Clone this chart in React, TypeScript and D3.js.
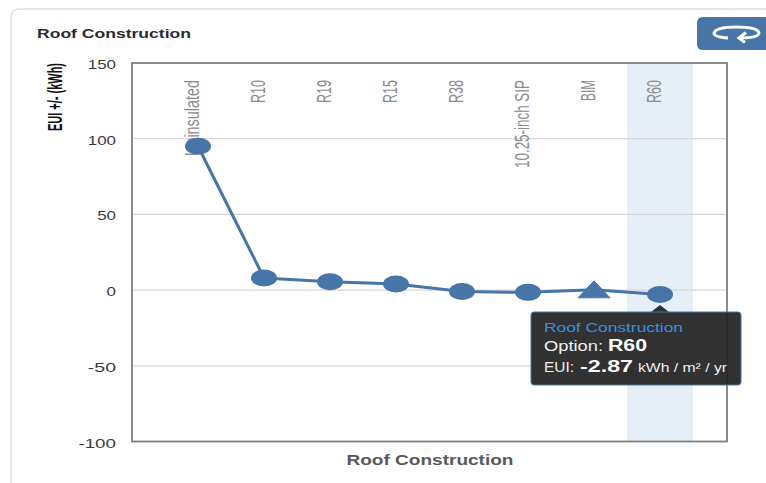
import React from "react";
import * as d3 from "d3";

const categories = ["Uninsulated", "R10", "R19", "R15", "R38", "10.25-inch SIP", "BIM", "R60"];
const labelLengths = [76, 23, 23, 23, 23, 88, 21, 23];
const values = [95, 8, 5.5, 4, -1, -1.5, 0.2, -2.87];
const yTicks = [150, 100, 50, 0, -50, -100];
const chartTitle = "Roof Construction";
const xTitle = "Roof Construction";
const yTitle = "EUI +/- (kWh)";
const triangleCategory = "BIM";
const selectedCategory = "R60";

const BLUE = "#4775a8";
const left = 132, right = 727, top = 63, bottom = 441.5;

export default function App() {
  const x = d3.scaleBand<string>().domain(categories).range([165, 693]);
  const y = d3.scaleLinear().domain([-100, 150]).range([bottom, top]);
  const cx = (c: string) => (x(c) as number) + x.bandwidth() / 2;
  const line = d3.line<number>().x((_, i) => cx(categories[i])).y((d) => y(d));
  const sans = "'Liberation Sans', Arial, sans-serif";
  const narrow = "'Liberation Sans Narrow', 'Liberation Sans', sans-serif";
  const sx = cx(selectedCategory);
  const sv = values[categories.indexOf(selectedCategory)];
  return (
    <svg width={766} height={483} style={{ position: "absolute", left: 0, top: 0, background: "#fff" }}>
      <path d="M11 483V18Q11 9 20 9H766" fill="none" stroke="#e0e0e0" strokeWidth={1.5} />
      <text x={37} y={38} fontFamily={sans} fontWeight={700} fontSize={13} fill="#2b2b2b" textLength={154} lengthAdjust="spacingAndGlyphs">{chartTitle}</text>
      <path d="M697 23Q697 17 703 17H766V50H703Q697 50 697 44Z" fill={BLUE} />
      <g fill="none" stroke="#fff" strokeWidth={3}>
        <path d="M728 38Q714 37 714 33Q716 27 736 27Q758 27 759 33Q758 38 740 38" />
        <path d="M746 32.5L739 38L745 42.5" />
      </g>

      <rect x={x(selectedCategory)} y={top} width={x.bandwidth()} height={bottom - top} fill="#e6eef7" />
      {yTicks.filter((t) => t !== 150 && t !== -100).map((t) => (
        <line key={t} x1={left} x2={right} y1={y(t)} y2={y(t)} stroke="#d6d6d6" strokeWidth={1.3} />
      ))}
      <rect x={left} y={top} width={right - left} height={bottom - top} fill="none" stroke="#7f7f7f" strokeWidth={1.8} />

      {yTicks.map((t) => (
        <text key={t} x={116} y={y(t) + 6} textAnchor="end" fontFamily={sans} fontSize={13}
          fill="#3a3a3a" textLength={String(t).length * 9.4} lengthAdjust="spacingAndGlyphs">{t}</text>
      ))}
      <text transform="translate(62,97) rotate(-90)" textAnchor="middle" fontFamily={narrow} fontWeight={700} fontSize={20} fill="#111" textLength={68} lengthAdjust="spacingAndGlyphs">{yTitle}</text>

      {categories.map((c, i) => (
        <text key={c} transform={`translate(${cx(c) - 6.5},80) rotate(-90)`} textAnchor="end" dominantBaseline="central" fontFamily={narrow} fontSize={20} fill="#8c8c8c"
          textLength={labelLengths[i]} lengthAdjust="spacingAndGlyphs">{c}</text>
      ))}

      <path d={line(values) ?? ""} fill="none" stroke={BLUE} strokeWidth={3} />
      {categories.map((c, i) =>
        c === triangleCategory ? (
          <path key={c} d={`M${cx(c)} ${y(values[i]) - 9}L${cx(c) + 16} ${y(values[i]) + 8}H${cx(c) - 16}Z`} fill={BLUE} stroke={BLUE} strokeLinejoin="round" />
        ) : (
          <ellipse key={c} cx={cx(c)} cy={y(values[i])} rx={13} ry={8.5} fill={BLUE} />
        )
      )}

      <g>
        <path d={`M${sx - 9} 312L${sx} 305L${sx + 9} 312Z`} fill="#303030" />
        <rect x={531} y={312} width={210} height={73} rx={3} fill="#222" fillOpacity={0.93} stroke={BLUE} strokeWidth={1} />
        <text x={544} y={332} fontFamily={sans} fontSize={13} fill="#3b8fe0" textLength={139} lengthAdjust="spacingAndGlyphs">{chartTitle}</text>
        <text x={544} y={351} fontFamily={sans} fontSize={15} fill="#f0f0f0" textLength={59} lengthAdjust="spacingAndGlyphs">Option:</text>
        <text x={608} y={351} fontFamily={sans} fontSize={16} fontWeight={700} fill="#fff" textLength={39} lengthAdjust="spacingAndGlyphs">{selectedCategory}</text>
        <text x={544} y={372} fontFamily={sans} fontSize={15} fill="#f0f0f0" textLength={30} lengthAdjust="spacingAndGlyphs">EUI:</text>
        <text x={580} y={372} fontFamily={sans} fontSize={17} fontWeight={700} fill="#fff" textLength={53} lengthAdjust="spacingAndGlyphs">{sv.toFixed(2)}</text>
        <text x={638} y={372} fontFamily={sans} fontSize={13} fill="#f0f0f0" textLength={89} lengthAdjust="spacingAndGlyphs">kWh / m² / yr</text>
      </g>
      <text x={430} y={465} textAnchor="middle" fontFamily={sans} fontWeight={700} fontSize={15} fill="#5a5a5a" textLength={167} lengthAdjust="spacingAndGlyphs">{xTitle}</text>
    </svg>
  );
}
